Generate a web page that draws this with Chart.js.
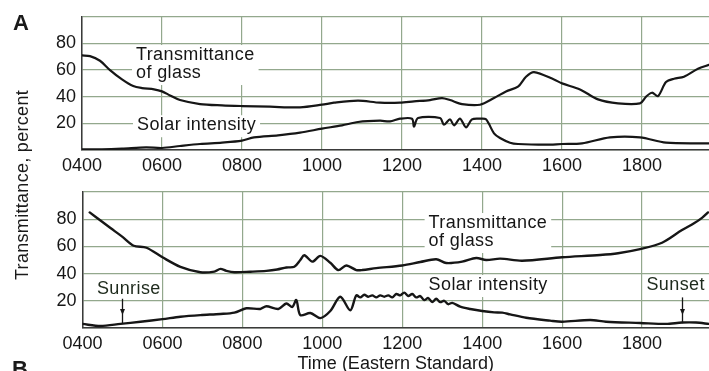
<!DOCTYPE html>
<html>
<head>
<meta charset="utf-8">
<script src="https://cdn.jsdelivr.net/npm/chart.js@4.4.1/dist/chart.umd.min.js"></script>
<style>
  html, body { margin: 0; padding: 0; background: #fff; }
  #wrap { position: relative; width: 709px; height: 371px; overflow: hidden; background: #fff; }
  canvas { position: absolute; left: 0; }
  #panelA { top: 0; }
  #panelB { top: 170px; }
  .ytitle {
    position: absolute; left: 22px; top: 185px;
    transform: translate(-50%, -50%) rotate(-90deg);
    font: 18px "Liberation Sans", Arial, sans-serif; letter-spacing: 0.3px;
    white-space: nowrap; color: #1a1a1a;
  }
  .tag { position: absolute; font: bold 22px "Liberation Sans", Arial, sans-serif; color: #1a1a1a; }
</style>
</head>
<body>
<div id="wrap">
  <canvas id="panelA" width="709" height="175"></canvas>
  <canvas id="panelB" width="709" height="201"></canvas>
  <div class="ytitle">Transmittance, percent</div>
  <div class="tag" style="left:13px; top:10px;">A</div>
  <div class="tag" style="left:12px; top:356px;">B</div>
</div>
<script>
// Time axis (hours of the day) and its labels
const tickHours  = [4, 6, 8, 10, 12, 14, 16, 18];
const tickLabels = ['0400', '0600', '0800', '1000', '1200', '1400', '1600', '1800'];
// Percent axis
const pctTicks  = [0, 20, 40, 60, 80, 100];
const pctLabels = ['', '20', '40', '60', '80', ''];

// Day A: transmittance of glass
const glassA_h = [4.0, 4.2, 4.45, 4.7, 5.0, 5.28, 5.5, 5.8, 6.0, 6.2, 6.45, 6.95, 7.5, 8.0, 8.7, 9.45,
  10.0, 10.3, 10.9, 11.45, 11.95, 12.3, 12.7, 13.0, 13.2, 13.5, 13.95, 14.3, 14.6, 14.9, 15.1, 15.3,
  15.8, 16.0, 16.45, 16.9, 17.4, 17.95, 18.1, 18.25, 18.4, 18.6, 18.8, 19.05, 19.4, 19.675];
const glassA_pct = [71, 70.5, 67, 60, 53, 48, 46.5, 45.5, 44, 41, 37.5, 34.5, 33.5, 33, 32.5, 32,
  34, 35.5, 37, 35.5, 35.5, 36.5, 37.5, 39, 37.5, 34.5, 34, 39, 44, 47.5, 55, 58.5,
  53, 50, 45.5, 38, 35, 35, 40, 43, 40.5, 51, 53.5, 55, 61, 64];

// Day A: solar intensity
const solarA_h = [4.0, 4.5, 5.0, 5.6, 6.0, 6.45, 6.95, 7.5, 8.0, 8.3, 8.9, 9.45, 10.0, 10.5, 10.9,
  11.45, 11.7, 11.95, 12.25, 12.3, 12.4, 12.95, 13.05, 13.2, 13.3, 13.45, 13.6, 13.75, 13.95, 14.1,
  14.3, 14.45, 14.7, 14.9, 15.6, 16.0, 16.5, 17.2, 17.95, 18.6, 19.675];
const solarA_pct = [0.5, 0.5, 1, 2, 1.5, 3, 4.5, 5.5, 7, 9.5, 11, 13, 16, 18.5, 21,
  22, 21.5, 23.5, 23.5, 17.5, 24, 24, 19, 23, 18.5, 23.5, 17, 23, 23.5, 23,
  12.5, 9, 5.5, 4.5, 4, 4.5, 5, 9.5, 9.5, 5.5, 5];

// Day B: transmittance of glass
const glassB_h = [4.18, 4.45, 4.7, 5.0, 5.28, 5.6, 6.0, 6.45, 6.95, 7.3, 7.45, 7.6, 7.8, 8.2, 8.6,
  8.87, 9.1, 9.3, 9.45, 9.55, 9.75, 9.95, 10.2, 10.4, 10.6, 10.85, 11.0, 11.35, 12.0, 12.45, 12.85,
  13.1, 13.5, 13.85, 14.1, 14.45, 15.0, 16.0, 16.95, 17.4, 17.95, 18.5, 19.0, 19.3, 19.5, 19.65];
const glassB_pct = [85, 79, 73.5, 67, 60.5, 59, 52, 45, 41, 41.5, 43.5, 42, 41, 41.4, 42,
  43, 44.5, 45, 50, 53.5, 48.8, 53, 48, 42.6, 46, 42.6, 42.6, 44, 46, 48.5, 50.5,
  47.8, 48.8, 51.5, 50, 51, 49.5, 52, 53.7, 55, 58, 62.7, 72, 77, 81, 85];

// Day B: solar intensity
const solarB_h = [4.0, 4.45, 4.95, 5.45, 6.0, 6.45, 6.95, 7.45, 7.8, 8.1, 8.45, 8.6, 8.9, 9.1, 9.25,
  9.35, 9.45, 9.7, 9.95, 10.2, 10.45, 10.7, 10.85, 10.95, 11.05, 11.15, 11.25, 11.35, 11.45, 11.55,
  11.65, 11.75, 11.85, 11.95, 12.05, 12.15, 12.25, 12.35, 12.45, 12.55, 12.65, 12.75, 12.85, 12.95,
  13.05, 13.15, 13.25, 13.45, 13.7, 14.0, 14.3, 14.5, 14.7, 15.1, 15.7, 16.0, 16.7, 17.1, 17.95,
  18.6, 19.0, 19.35, 19.675];
const solarB_pct = [3, 1.5, 3, 4.6, 6.5, 8.3, 9.5, 10.3, 11.3, 14.5, 14, 16, 14, 18, 15.5,
  20.6, 9.5, 11, 7.3, 12.5, 23, 13, 24, 22.5, 24.5, 23, 24, 22.5, 24, 23,
  24, 22.5, 25, 24, 26, 23.5, 25, 22.5, 23.5, 20.5, 22, 19, 21.5, 19,
  20, 17.5, 18.5, 15.7, 14, 12.5, 11.5, 11.3, 10, 7.5, 5.4, 4.6, 5.9, 4.6, 3.7,
  3, 4, 4, 3];

const family = '"Liberation Sans", Arial, sans-serif';
const gridColor = '#93a88d';
const axisColor = '#3a3a3a';
const inkColor = '#161616';

const toPoints = (hs, vs) => hs.map((h, i) => ({ x: h, y: vs[i] }));

// Text notes (with optional white backing) and arrows drawn inside the plot area
const panelNotes = {
  id: 'panelNotes',
  beforeDatasetsDraw(chart, args, opts) {
    const { ctx, scales: { x, y } } = chart;
    ctx.save();
    ctx.font = '18px ' + family;
    if ('letterSpacing' in ctx) ctx.letterSpacing = '0.4px';
    ctx.textBaseline = 'middle';
    ctx.textAlign = 'left';
    for (const n of (opts.notes || [])) {
      const px = x.getPixelForValue(n.x);
      const py = y.getPixelForValue(n.y);
      const lh = 18;
      const w = Math.max(...n.lines.map(l => ctx.measureText(l).width));
      if (n.mask) {
        ctx.fillStyle = '#fff';
        ctx.fillRect(px - 4, py - 10, w + 8, (n.lines.length - 1) * lh + 22);
      }
      ctx.fillStyle = n.color || inkColor;
      n.lines.forEach((l, i) => ctx.fillText(l, px, py + i * lh));
    }
    ctx.restore();
  },
  afterDatasetsDraw(chart, args, opts) {
    const { ctx, scales: { x, y } } = chart;
    ctx.save();
    ctx.strokeStyle = inkColor;
    ctx.fillStyle = inkColor;
    ctx.lineWidth = 1.3;
    for (const a of (opts.arrows || [])) {
      const px = Math.round(x.getPixelForValue(a.x)) + 0.5;
      const y1 = y.getPixelForValue(a.from);
      const y2 = y.getPixelForValue(a.to);
      const yh = y.getPixelForValue(a.head);
      ctx.beginPath();
      ctx.moveTo(px, y1);
      ctx.lineTo(px, y2);
      ctx.stroke();
      ctx.beginPath();
      ctx.moveTo(px - 2.5, yh - 6);
      ctx.lineTo(px + 2.5, yh - 6);
      ctx.lineTo(px, yh);
      ctx.closePath();
      ctx.fill();
    }
    ctx.restore();
  }
};

function buildOptions(cfg) {
  return {
    responsive: false,
    animation: false,
    layout: { padding: { top: cfg.padTop, left: 0, right: 0, bottom: 0 } },
    plugins: {
      legend: { display: false },
      tooltip: { enabled: false },
      panelNotes: { notes: cfg.notes, arrows: cfg.arrows || [] }
    },
    elements: { point: { radius: 0 } },
    scales: {
      x: {
        type: 'linear', min: 4, max: 19.675,
        afterBuildTicks: s => { s.ticks = tickHours.map(v => ({ value: v })); },
        afterFit: s => { s.height = cfg.xHeight; },
        ticks: {
          callback: v => { const i = tickHours.indexOf(v); return i >= 0 ? tickLabels[i] : ''; },
          font: { family, size: 18 }, color: inkColor, padding: cfg.xPad,
          maxRotation: 0, autoSkip: false
        },
        grid: { color: gridColor, lineWidth: 1.2, drawTicks: false },
        border: { display: true, color: axisColor, width: 1.5 },
        title: cfg.xTitle
          ? { display: true, text: cfg.xTitle, font: { family, size: 18 }, color: inkColor, padding: { top: 0, bottom: -4 } }
          : { display: false }
      },
      y: {
        type: 'linear', min: 0, max: 100,
        afterBuildTicks: s => { s.ticks = pctTicks.map(v => ({ value: v })); },
        afterFit: s => { s.width = cfg.yWidth; },
        ticks: {
          callback: v => { const i = pctTicks.indexOf(v); return i >= 0 ? pctLabels[i] : ''; },
          font: { family, size: 18 }, color: inkColor, padding: 6
        },
        grid: { color: gridColor, lineWidth: 1.2, drawTicks: false },
        border: { display: true, color: axisColor, width: 1.5 }
      }
    }
  };
}

function lineSet(pts, width) {
  return {
    data: pts, borderColor: inkColor, borderWidth: width, fill: false,
    tension: 0.3, pointRadius: 0, borderCapStyle: 'round', borderJoinStyle: 'round'
  };
}

new Chart(document.getElementById('panelA'), {
  type: 'line',
  data: { datasets: [
    lineSet(toPoints(glassA_h, glassA_pct), 2.2),
    lineSet(toPoints(solarA_h, solarA_pct), 2.2)
  ] },
  options: buildOptions({
    padTop: 14, xHeight: 25, xPad: 5, yWidth: 82,
    notes: [
      { x: 5.35, y: 71.3, lines: ['Transmittance', 'of glass'], mask: true },
      { x: 5.375, y: 18.6, lines: ['Solar intensity'], mask: true }
    ]
  }),
  plugins: [panelNotes]
});

new Chart(document.getElementById('panelB'), {
  type: 'line',
  data: { datasets: [
    lineSet(toPoints(glassB_h, glassB_pct), 2.4),
    lineSet(toPoints(solarB_h, solarB_pct), 2.4)
  ] },
  options: buildOptions({
    padTop: 22, xHeight: 43, xPad: 5, yWidth: 82.5, xTitle: 'Time (Eastern Standard)',
    notes: [
      { x: 12.66, y: 77.2, lines: ['Transmittance', 'of glass'], mask: true },
      { x: 12.66, y: 31.6, lines: ['Solar intensity'], mask: true },
      { x: 4.36, y: 28.7, lines: ['Sunrise'], mask: false, color: '#1e2a1c' },
      { x: 18.11, y: 31.6, lines: ['Sunset'], mask: false, color: '#1e2a1c' }
    ],
    arrows: [
      { x: 5.0, from: 21.5, to: 3.5, head: 9.5 },
      { x: 19.0, from: 22.5, to: 3.5, head: 9.5 }
    ]
  }),
  plugins: [panelNotes]
});
</script>
</body>
</html>
